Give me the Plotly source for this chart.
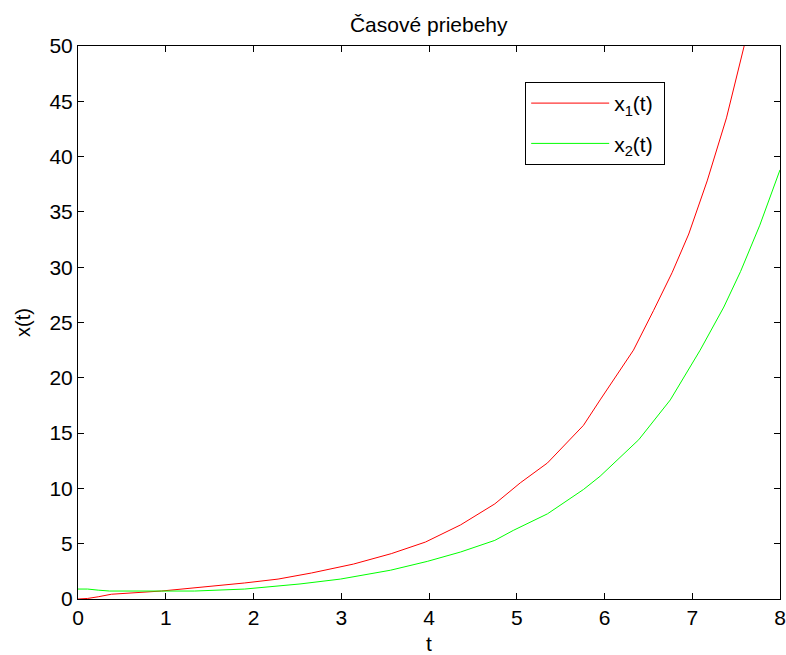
import plotly.graph_objects as go

# Solver output samples for the two state variables
t1 = [0.0, 0.11, 0.23, 0.38, 0.95, 1.33, 1.9, 2.28, 2.66, 3.14, 3.57, 3.96, 4.36, 4.75, 5.04,
      5.35, 5.76, 5.95, 6.33, 6.56, 6.77, 6.96, 7.17, 7.39, 7.61, 7.7]
x1 = [0.0, 0.05, 0.2, 0.43, 0.72, 1.0, 1.45, 1.8, 2.35, 3.16, 4.1, 5.15, 6.7, 8.6, 10.5,
      12.3, 15.7, 18.0, 22.5, 26.1, 29.5, 33.0, 37.8, 43.5, 50.5, 53.5]

t2 = [0.0, 0.11, 0.23, 0.36, 0.95, 1.33, 1.9, 2.53, 2.99, 3.56, 3.98, 4.36, 4.75, 4.96,
      5.35, 5.76, 5.95, 6.39, 6.75, 7.09, 7.36, 7.55, 7.77, 8.0]
x2 = [0.9, 0.9, 0.8, 0.72, 0.72, 0.72, 0.9, 1.36, 1.8, 2.6, 3.4, 4.25, 5.3, 6.2,
      7.7, 9.9, 11.1, 14.4, 18.0, 22.5, 26.4, 29.6, 33.8, 38.8]

x_ticks = [0, 1, 2, 3, 4, 5, 6, 7, 8]
y_ticks = [0, 5, 10, 15, 20, 25, 30, 35, 40, 45, 50]

family = "Liberation Sans, Arial, sans-serif"
font = dict(family=family, size=21, color="black")

fig = go.Figure()
fig.add_trace(go.Scatter(x=t1, y=x1, mode="lines", name="x<sub>1</sub>(t)&nbsp;",
                         legendgroup="a", line=dict(color="#ff0000", width=1)))
fig.add_trace(go.Scatter(x=t2, y=x2, mode="lines", name="x<sub>2</sub>(t)&nbsp;",
                         legendgroup="b", line=dict(color="#00ff00", width=1)))

axis_common = dict(
    showline=True, linecolor="black", linewidth=1, mirror="ticks",
    ticks="inside", ticklen=6, tickcolor="black", tickwidth=1,
    showgrid=False, zeroline=False, tickfont=font,
    automargin=False, ticklabeloverflow="allow",
)

fig.update_layout(
    width=786, height=655,
    paper_bgcolor="white", plot_bgcolor="white",
    margin=dict(l=78, r=6, t=46, b=56),
    title=dict(text="Časové priebehy", x=0.5455, xanchor="center",
               y=1 - 25 / 655, yanchor="middle", font=font),
    xaxis=dict(range=[0, 8], tickvals=x_ticks,
               title=dict(text="t", font=font, standoff=15), **axis_common),
    yaxis=dict(range=[0, 50], tickvals=y_ticks,
               title=dict(text="x(t)", font=dict(family=family, size=20, color="black"),
                          standoff=13), **axis_common),
    legend=dict(x=0.637, y=0.935, xanchor="left", yanchor="top",
                bgcolor="white", bordercolor="black", borderwidth=1,
                font=font, itemwidth=78, tracegroupgap=10),
    showlegend=True,
)

fig.write_html("out.html")
